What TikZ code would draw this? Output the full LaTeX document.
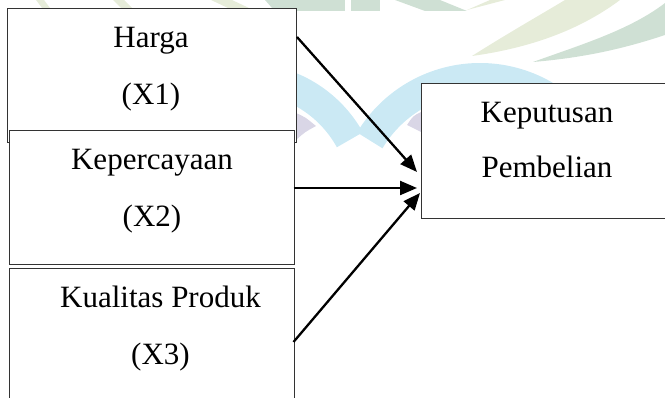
\documentclass[tikz,border=0pt]{standalone}
\usepackage{fontspec}
\setmainfont{Liberation Serif}
\usetikzlibrary{arrows.meta}
\definecolor{wmcyan}{HTML}{CBE9F4}
\definecolor{wmlav}{HTML}{D9D6E6}
\definecolor{wmlight}{HTML}{E6ECD9}
\definecolor{wmdark}{HTML}{CFE0D4}
\begin{document}
\begin{tikzpicture}[x=1pt,y=-1pt,
  box/.style={draw=black!80, line width=1.3pt, fill=white, rectangle, inner sep=0pt, anchor=north west},
  lbl/.style={font=\fontsize{31}{37}\selectfont, inner sep=0pt, anchor=base},
  arr/.style={line width=2.3pt, -{Triangle[length=17pt,width=14pt]}}]
\useasboundingbox (0,0) rectangle (665,398);
\clip (0,0) rectangle (665,398);
% faint watermark
\fill[wmlight] (472,56) .. controls (505,35) and (540,15) .. (565,0) -- (620,0) .. controls (580,30) and (530,48) .. cycle;
\fill[wmdark] (533,62) .. controls (580,45) and (630,30) .. (665,3) -- (665,35) .. controls (620,50) and (580,58) .. cycle;
\fill[wmlight] (467,10) -- (490,0) -- (505,0) -- cycle;
\fill[wmdark] (293,0) rectangle (345,11);
\fill[wmdark] (351,0) rectangle (380,11);
\fill[wmdark] (395,0) -- (440,0) -- (467,11) -- (425,11) -- cycle;
\fill[wmlight] (36,0) -- (44,0) -- (50,8) -- (42,8) -- cycle;
\fill[wmlight] (113,0) -- (124,0) -- (132,8) -- (121,8) -- cycle;
\fill[wmlight] (211,0) -- (232,0) -- (249,8) -- (228,8) -- cycle;
\fill[wmdark] (265,0) -- (330,0) -- (330,8) -- (272,8) -- cycle;
\draw[wmcyan, line width=30pt] (480,206.6) ++(211:128.6) arc[start angle=211, end angle=320, radius=128.6];
\draw[wmcyan, line width=30pt] (245,197.9) ++(331:119.9) arc[start angle=331, end angle=220, radius=119.9];
\fill[wmlav] (296,113) .. controls (305,117) .. (316,126) .. controls (305,132) .. (296,140) -- cycle;
\fill[wmlav] (421,112) .. controls (413,116) .. (407,125) .. controls (413,128) .. (421,132) -- cycle;
% boxes
\node[box, minimum width=289pt, minimum height=134pt] (b1) at (7,8) {};
\node[box, minimum width=284.5pt, minimum height=134pt] (b2) at (9,130) {};
\node[box, minimum width=284.5pt, minimum height=152pt] (b3) at (9,268) {};
\node[box, minimum width=260pt, minimum height=135pt] (b4) at (421,83) {};
% texts
\node[lbl] (t1a) at (151,48) {Harga};
\node[lbl] (t1b) at (151,105) {(X1)};
\node[lbl] (t2a) at (152,170) {Kepercayaan};
\node[lbl] (t2b) at (152,227) {(X2)};
\node[lbl] (t3a) at (160.5,308) {Kualitas Produk};
\node[lbl] (t3b) at (160.5,365) {(X3)};
\node[lbl] (t4a) at (547,123) {Keputusan};
\node[lbl] (t4b) at (547,178) {Pembelian};
% connectors
\coordinate (s1) at (297,37); \coordinate (e1) at (417,172);
\coordinate (s2) at (293.5,188); \coordinate (e2) at (417,188);
\coordinate (s3) at (293.5,342); \coordinate (e3) at (420,193);
\draw[arr] (s1) -- (e1);
\draw[arr] (s2) -- (e2);
\draw[arr] (s3) -- (e3);
\end{tikzpicture}
\end{document}
